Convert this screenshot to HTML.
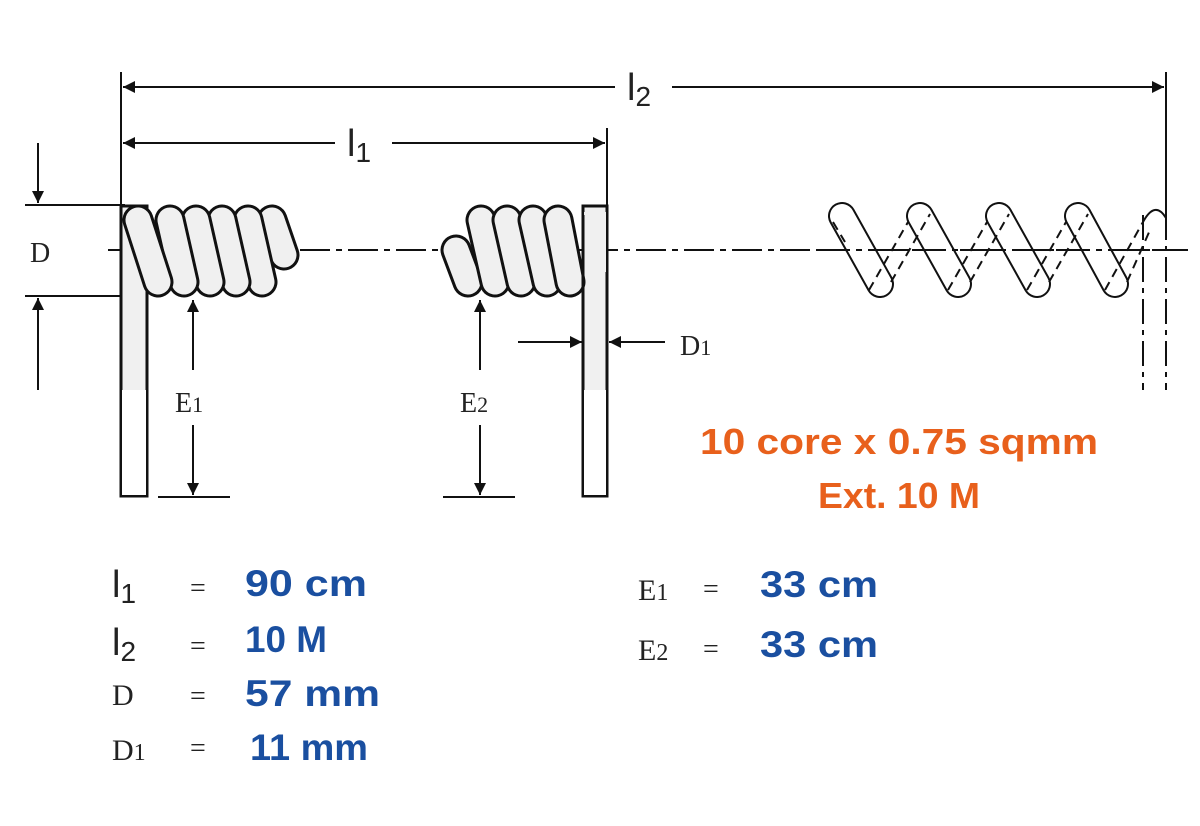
<!DOCTYPE html>
<html><head><meta charset="utf-8"><style>
html,body{margin:0;padding:0;background:#fff;}
svg{display:block}
.s{font-family:"Liberation Serif",serif;fill:#222}
.l{font-family:"Liberation Sans",sans-serif;fill:#222}
.b{font-family:"Liberation Sans",sans-serif;font-weight:bold;fill:#1a4fa0;font-size:37px}
.o{font-family:"Liberation Sans",sans-serif;font-weight:bold;fill:#e8601c;font-size:36px}
</style></head><body>
<svg width="1200" height="826" viewBox="0 0 1200 826" xmlns="http://www.w3.org/2000/svg">
<defs>
<marker id="A" viewBox="0 0 10 10" refX="10" refY="5" markerWidth="22" markerHeight="12" orient="auto-start-reverse" markerUnits="userSpaceOnUse"><path d="M0,0 L10,5 L0,10z" fill="#111"/></marker>
</defs>
<g stroke="#111" stroke-width="2" fill="none">
<line x1="121" y1="72" x2="121" y2="210"/>
<line x1="1166" y1="72" x2="1166" y2="215"/>
<line x1="607" y1="128" x2="607" y2="210"/>
<line x1="123" y1="87" x2="615" y2="87" marker-start="url(#A)"/>
<line x1="672" y1="87" x2="1164" y2="87" marker-end="url(#A)"/>
<line x1="123" y1="143" x2="335" y2="143" marker-start="url(#A)"/>
<line x1="392" y1="143" x2="605" y2="143" marker-end="url(#A)"/>
<line x1="25" y1="205" x2="125" y2="205"/>
<line x1="25" y1="296" x2="125" y2="296"/>
<line x1="38" y1="143" x2="38" y2="203" marker-end="url(#A)"/>
<line x1="38" y1="390" x2="38" y2="298" marker-end="url(#A)"/>
<line x1="108" y1="250" x2="1188" y2="250" stroke-dasharray="30,6,6,6"/>
</g>
<rect x="121" y="206" width="26" height="290" fill="#f0f0f0" stroke="#111" stroke-width="3"/>
<rect x="122" y="390" width="24" height="105" fill="#fff"/>
<rect x="583" y="206" width="24" height="290" fill="#f0f0f0" stroke="#111" stroke-width="3"/>
<rect x="584" y="390" width="22" height="105" fill="#fff"/>
<g stroke-linecap="round">
<g stroke="#111" stroke-width="31"><line x1="272" y1="220" x2="284" y2="255"/></g>
<g stroke="#f0f0f0" stroke-width="25"><line x1="272" y1="220" x2="284" y2="255"/></g>
<g stroke="#111" stroke-width="31"><line x1="248" y1="220" x2="262" y2="282"/></g>
<g stroke="#f0f0f0" stroke-width="25"><line x1="248" y1="220" x2="262" y2="282"/></g>
<g stroke="#111" stroke-width="31"><line x1="222" y1="220" x2="236" y2="282"/></g>
<g stroke="#f0f0f0" stroke-width="25"><line x1="222" y1="220" x2="236" y2="282"/></g>
<g stroke="#111" stroke-width="31"><line x1="196" y1="220" x2="210" y2="282"/></g>
<g stroke="#f0f0f0" stroke-width="25"><line x1="196" y1="220" x2="210" y2="282"/></g>
<g stroke="#111" stroke-width="31"><line x1="170" y1="220" x2="184" y2="282"/></g>
<g stroke="#f0f0f0" stroke-width="25"><line x1="170" y1="220" x2="184" y2="282"/></g>
<g stroke="#111" stroke-width="31"><line x1="138" y1="220" x2="158" y2="282"/></g>
<g stroke="#f0f0f0" stroke-width="25"><line x1="138" y1="220" x2="158" y2="282"/></g>
</g>
<g stroke-linecap="round">
<g stroke="#111" stroke-width="31"><line x1="456" y1="250" x2="468" y2="282"/></g>
<g stroke="#f0f0f0" stroke-width="25"><line x1="456" y1="250" x2="468" y2="282"/></g>
<g stroke="#111" stroke-width="31"><line x1="481" y1="220" x2="495" y2="282"/></g>
<g stroke="#f0f0f0" stroke-width="25"><line x1="481" y1="220" x2="495" y2="282"/></g>
<g stroke="#111" stroke-width="31"><line x1="507" y1="220" x2="521" y2="282"/></g>
<g stroke="#f0f0f0" stroke-width="25"><line x1="507" y1="220" x2="521" y2="282"/></g>
<g stroke="#111" stroke-width="31"><line x1="533" y1="220" x2="547" y2="282"/></g>
<g stroke="#f0f0f0" stroke-width="25"><line x1="533" y1="220" x2="547" y2="282"/></g>
<g stroke="#111" stroke-width="31"><line x1="558" y1="220" x2="570" y2="282"/></g>
<g stroke="#f0f0f0" stroke-width="25"><line x1="558" y1="220" x2="570" y2="282"/></g>
</g>
<rect x="584" y="212" width="22" height="60" fill="#f0f0f0"/>
<line x1="583" y1="215" x2="583" y2="300" stroke="#111" stroke-width="3"/>
<!-- dashed coil -->
<g fill="none" stroke-linecap="round">
<g stroke="#111" stroke-width="28">
<line x1="842" y1="216" x2="880" y2="284"/>
<line x1="920" y1="216" x2="958" y2="284"/>
<line x1="999" y1="216" x2="1037" y2="284"/>
<line x1="1078" y1="216" x2="1115" y2="284"/>
</g>
<g stroke="#fff" stroke-width="24">
<line x1="842" y1="216" x2="880" y2="284"/>
<line x1="920" y1="216" x2="958" y2="284"/>
<line x1="999" y1="216" x2="1037" y2="284"/>
<line x1="1078" y1="216" x2="1115" y2="284"/>
</g>
<g stroke="#111" stroke-width="2" stroke-dasharray="9,6" stroke-linecap="butt">
<line x1="891" y1="282" x2="930" y2="214"/><line x1="869" y1="290" x2="908" y2="222"/>
<line x1="970" y1="282" x2="1009" y2="214"/><line x1="948" y1="290" x2="987" y2="222"/>
<line x1="1049" y1="282" x2="1088" y2="214"/><line x1="1027" y1="290" x2="1066" y2="222"/>
<line x1="1127" y1="282" x2="1150" y2="230"/><line x1="1105" y1="290" x2="1143" y2="222"/>
<line x1="833" y1="222" x2="845" y2="242"/>
</g>
<path d="M1143,222 Q1155,200 1166,218" stroke="#111" stroke-width="2"/>
</g>
<g stroke="#111" stroke-width="2" fill="none">
<line x1="1143" y1="215" x2="1143" y2="390" stroke-dasharray="25,6,5,6"/>
<line x1="1166" y1="215" x2="1166" y2="390" stroke-dasharray="25,6,5,6"/>
<line x1="820" y1="250" x2="1188" y2="250" stroke-dasharray="30,6,6,6"/>
<line x1="193" y1="370" x2="193" y2="300" marker-end="url(#A)"/>
<line x1="193" y1="425" x2="193" y2="495" marker-end="url(#A)"/>
<line x1="158" y1="497" x2="230" y2="497"/>
<line x1="480" y1="370" x2="480" y2="300" marker-end="url(#A)"/>
<line x1="480" y1="425" x2="480" y2="495" marker-end="url(#A)"/>
<line x1="443" y1="497" x2="515" y2="497"/>
<line x1="518" y1="342" x2="582" y2="342" marker-end="url(#A)"/>
<line x1="665" y1="342" x2="609" y2="342" marker-end="url(#A)"/>
</g>
<text x="30" y="262" class="s" font-size="28">D</text>
<text x="175" y="412" class="s" font-size="28">E<tspan font-size="22">1</tspan></text>
<text x="460" y="412" class="s" font-size="28">E<tspan font-size="22">2</tspan></text>
<text x="680" y="355" class="s" font-size="28">D<tspan font-size="22">1</tspan></text>
<text x="627" y="100" class="l" font-size="38">l<tspan font-size="28" dy="6">2</tspan></text>
<text x="347" y="156" class="l" font-size="38">l<tspan font-size="28" dy="6">1</tspan></text>
<text x="700" y="454" class="o" textLength="398" lengthAdjust="spacingAndGlyphs">10 core x 0.75 sqmm</text>
<text x="818" y="508" class="o" textLength="162" lengthAdjust="spacingAndGlyphs">Ext. 10 M</text>
<text x="112" y="597" class="l" font-size="38">l<tspan font-size="28" dy="6">1</tspan></text>
<text x="112" y="655" class="l" font-size="38">l<tspan font-size="28" dy="6">2</tspan></text>
<text x="112" y="705" class="s" font-size="30">D</text>
<text x="112" y="760" class="s" font-size="30">D<tspan font-size="24">1</tspan></text>
<text x="190" y="597" class="s" font-size="28">=</text>
<text x="190" y="655" class="s" font-size="28">=</text>
<text x="190" y="705" class="s" font-size="28">=</text>
<text x="190" y="757" class="s" font-size="28">=</text>
<text x="245" y="596" class="b" textLength="122" lengthAdjust="spacingAndGlyphs">90 cm</text>
<text x="245" y="652" class="b" textLength="82" lengthAdjust="spacingAndGlyphs">10 M</text>
<text x="245" y="706" class="b" textLength="135" lengthAdjust="spacingAndGlyphs">57 mm</text>
<text x="250" y="760" class="b" textLength="118" lengthAdjust="spacingAndGlyphs">11 mm</text>
<text x="638" y="600" class="s" font-size="30">E<tspan font-size="24">1</tspan></text>
<text x="638" y="660" class="s" font-size="30">E<tspan font-size="24">2</tspan></text>
<text x="703" y="598" class="s" font-size="28">=</text>
<text x="703" y="658" class="s" font-size="28">=</text>
<text x="760" y="597" class="b" textLength="118" lengthAdjust="spacingAndGlyphs">33 cm</text>
<text x="760" y="657" class="b" textLength="118" lengthAdjust="spacingAndGlyphs">33 cm</text>
</svg>
</body></html>
